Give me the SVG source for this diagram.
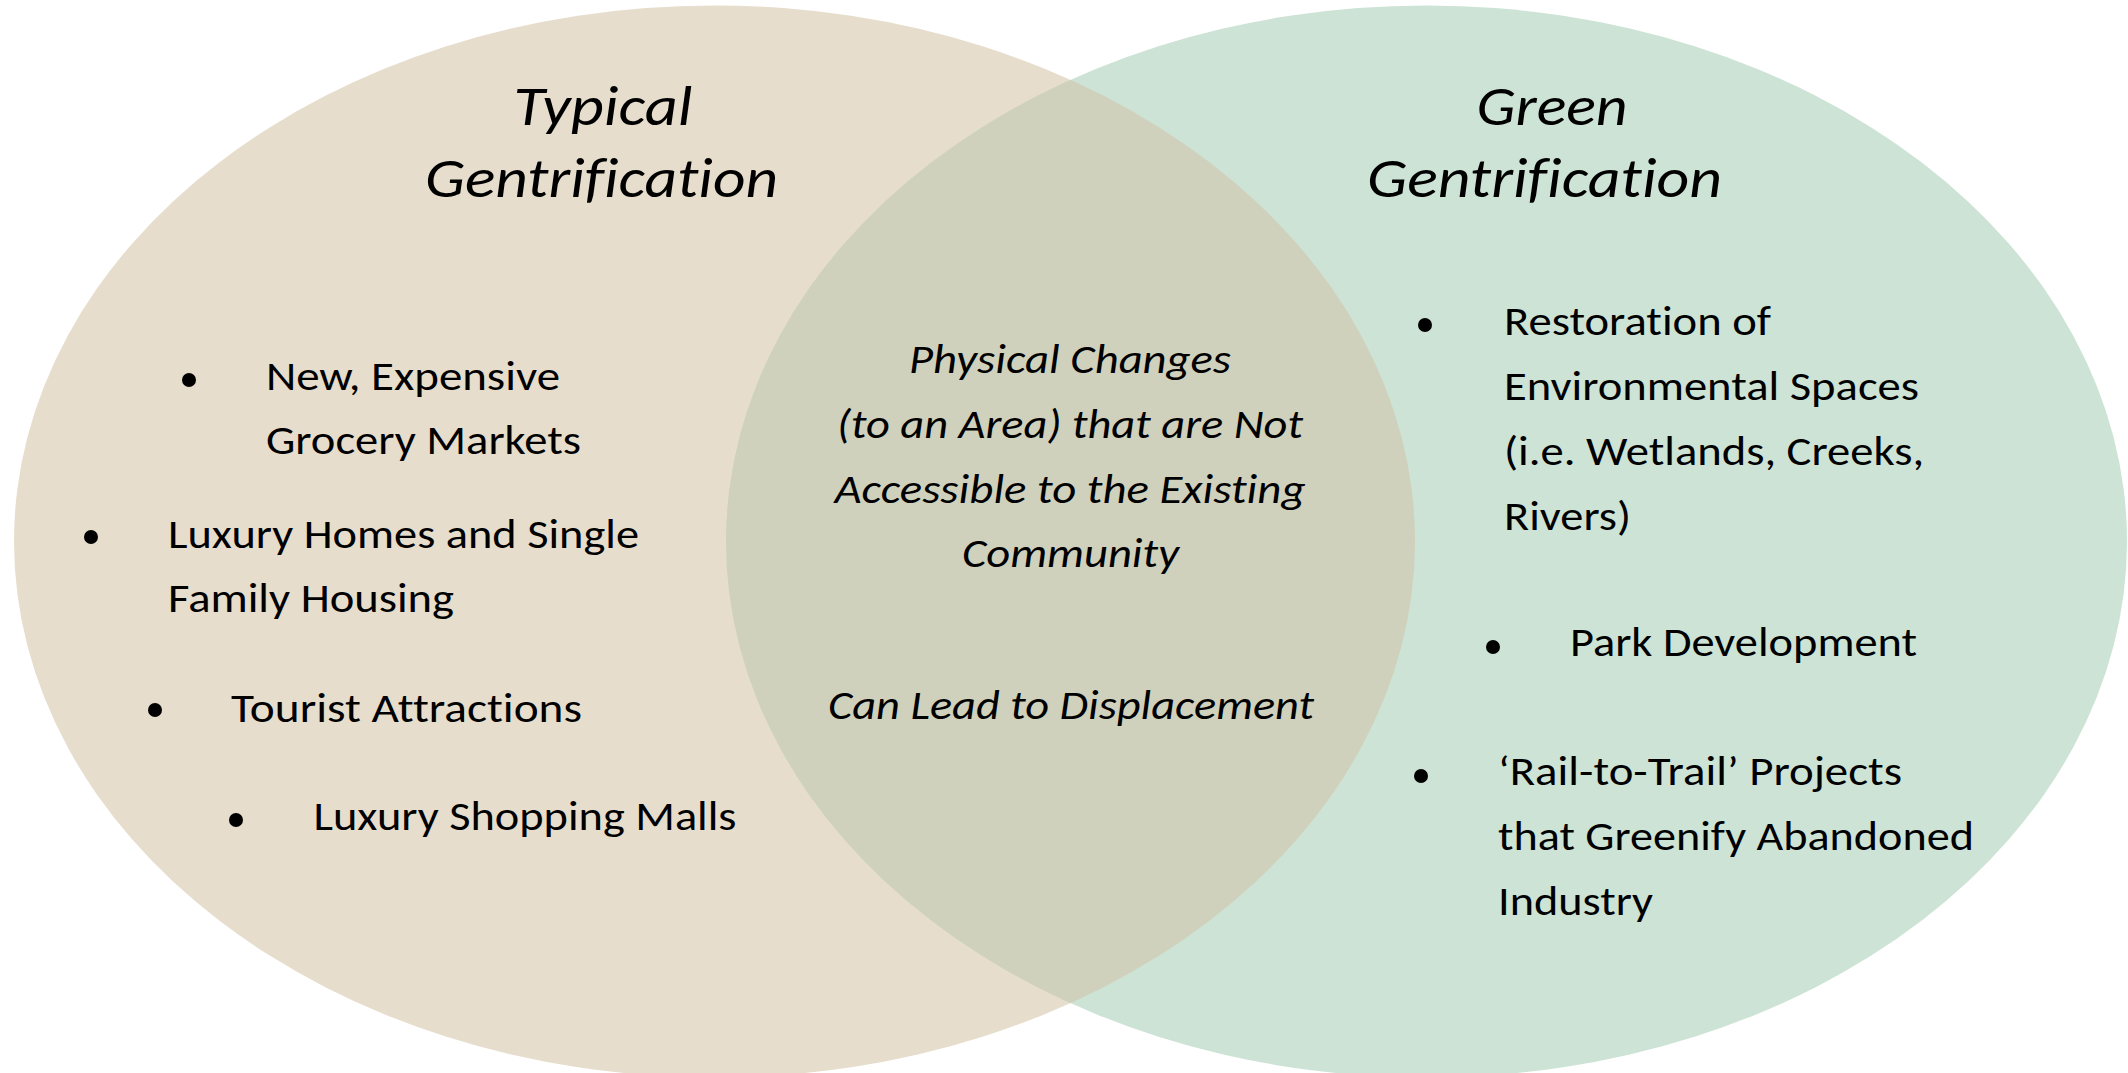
<svg xmlns="http://www.w3.org/2000/svg" width="2128" height="1073" viewBox="0 0 2128 1073">
  <style>
    .t { font-family: Carlito, Lato, "Open Sans", "Liberation Sans", sans-serif; fill: #000; font-variant-ligatures: none; }
    .title { font-size: 56px; font-style: italic; text-anchor: middle; }
    .body { font-size: 42px; }
    .mid { font-size: 42px; font-style: italic; text-anchor: middle; }
    .dot { fill: #000; }
  </style>
  <defs>
    <clipPath id="clipLeft">
      <ellipse cx="714.5" cy="541.5" rx="700.5" ry="536"/>
    </clipPath>
  </defs>
  <rect x="0" y="0" width="2128" height="1073" fill="#ffffff"/>
  <g id="set-typical">
    <ellipse cx="714.5" cy="541.5" rx="700.5" ry="536" fill="#E6DDCC"/>
  </g>
  <g id="set-green">
    <ellipse cx="1426.5" cy="541.5" rx="700.5" ry="536" fill="#CDE3D5"/>
  </g>
  <g id="overlap">
    <ellipse cx="1426.5" cy="541.5" rx="700.5" ry="536" fill="#CFD1BC" clip-path="url(#clipLeft)"/>
  </g>
  <g id="connectors"></g>

  <g id="title-typical" class="t title">
    <text x="603" y="125" textLength="179" lengthAdjust="spacingAndGlyphs">Typical</text>
    <text x="601.5" y="197" textLength="353" lengthAdjust="spacingAndGlyphs">Gentrification</text>
  </g>
  <g id="title-green" class="t title">
    <text x="1552" y="125" textLength="151" lengthAdjust="spacingAndGlyphs">Green</text>
    <text x="1544.5" y="197" textLength="355" lengthAdjust="spacingAndGlyphs">Gentrification</text>
  </g>

  <g id="item-grocery" class="t body">
    <circle class="dot" cx="189" cy="380" r="7"/>
    <text x="266" y="390" textLength="294" lengthAdjust="spacingAndGlyphs">New, Expensive</text>
    <text x="266" y="454" textLength="315" lengthAdjust="spacingAndGlyphs">Grocery Markets</text>
  </g>
  <g id="item-homes" class="t body">
    <circle class="dot" cx="91" cy="537" r="7"/>
    <text x="168" y="548" textLength="471" lengthAdjust="spacingAndGlyphs">Luxury Homes and Single</text>
    <text x="168" y="612" textLength="286" lengthAdjust="spacingAndGlyphs">Family Housing</text>
  </g>
  <g id="item-tourist" class="t body">
    <circle class="dot" cx="155" cy="710" r="7"/>
    <text x="231" y="722" textLength="351" lengthAdjust="spacingAndGlyphs">Tourist Attractions</text>
  </g>
  <g id="item-malls" class="t body">
    <circle class="dot" cx="236" cy="820" r="7"/>
    <text x="313.5" y="830" textLength="423" lengthAdjust="spacingAndGlyphs">Luxury Shopping Malls</text>
  </g>

  <g id="shared" class="t mid">
    <text x="1070" y="373" textLength="322" lengthAdjust="spacingAndGlyphs">Physical Changes</text>
    <text x="1070" y="438" textLength="466" lengthAdjust="spacingAndGlyphs">(to an Area) that are Not</text>
    <text x="1070" y="503" textLength="471" lengthAdjust="spacingAndGlyphs">Accessible to the Existing</text>
    <text x="1070.5" y="567" textLength="217" lengthAdjust="spacingAndGlyphs">Community</text>
    <text x="1071" y="719" textLength="486" lengthAdjust="spacingAndGlyphs">Can Lead to Displacement</text>
  </g>

  <g id="item-restoration" class="t body">
    <circle class="dot" cx="1425" cy="325" r="7"/>
    <text x="1504" y="335" textLength="267" lengthAdjust="spacingAndGlyphs">Restoration of</text>
    <text x="1504" y="400" textLength="415" lengthAdjust="spacingAndGlyphs">Environmental Spaces</text>
    <text x="1504" y="465" textLength="420" lengthAdjust="spacingAndGlyphs">(i.e. Wetlands, Creeks,</text>
    <text x="1504" y="530" textLength="127" lengthAdjust="spacingAndGlyphs">Rivers)</text>
  </g>
  <g id="item-park" class="t body">
    <circle class="dot" cx="1493" cy="647" r="7"/>
    <text x="1570" y="656" textLength="347" lengthAdjust="spacingAndGlyphs">Park Development</text>
  </g>
  <g id="item-rail" class="t body">
    <circle class="dot" cx="1421" cy="776" r="7"/>
    <text x="1498" y="785" textLength="404" lengthAdjust="spacingAndGlyphs">‘Rail-to-Trail’ Projects</text>
    <text x="1498" y="850" textLength="476" lengthAdjust="spacingAndGlyphs">that Greenify Abandoned</text>
    <text x="1498" y="915" textLength="155" lengthAdjust="spacingAndGlyphs">Industry</text>
  </g>
</svg>
